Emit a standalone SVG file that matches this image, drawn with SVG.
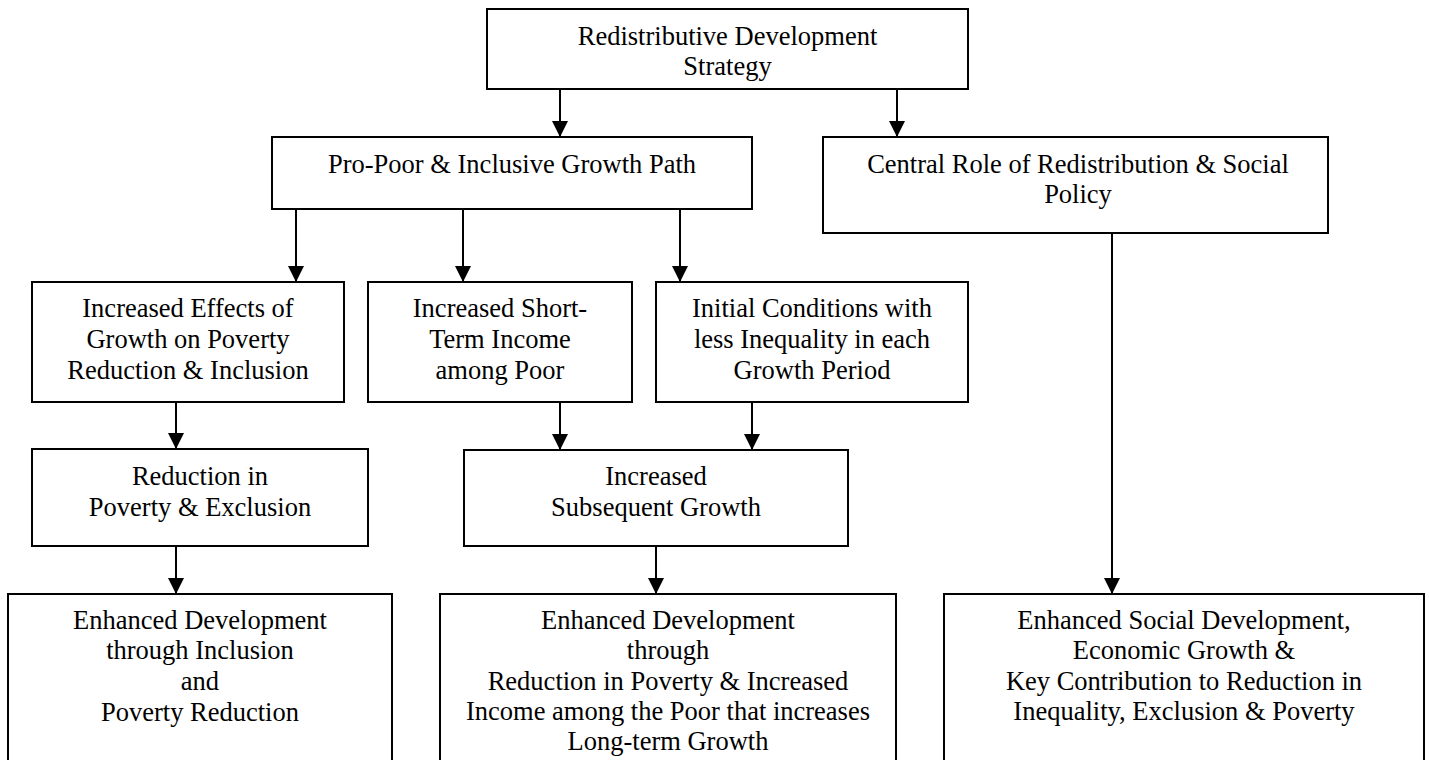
<svg xmlns="http://www.w3.org/2000/svg" width="1429" height="760" viewBox="0 0 1429 760">
<style>
.box{fill:#fff;stroke:#000;stroke-width:2}
.t{font-family:"Liberation Serif","Times New Roman",serif;font-size:26.5px;fill:#000;text-anchor:middle}
.c{stroke:#000;stroke-width:2;fill:none;marker-end:url(#ah)}
</style>
<defs>
<marker id="ah" markerUnits="userSpaceOnUse" markerWidth="16" markerHeight="16" viewBox="0 0 16 16" refX="16" refY="8" orient="auto">
<path d="M0,0 L16,8 L0,16 Z" fill="#000"/>
</marker>
</defs>
<rect width="1429" height="760" fill="#fff"/>
<g id="connectors">
<line class="c" x1="560" y1="89" x2="560" y2="137"/>
<line class="c" x1="897" y1="89" x2="897" y2="137"/>
<line class="c" x1="296" y1="209" x2="296" y2="282"/>
<line class="c" x1="463" y1="209" x2="463" y2="282"/>
<line class="c" x1="680" y1="209" x2="680" y2="282"/>
<line class="c" x1="176" y1="402" x2="176" y2="449"/>
<line class="c" x1="560" y1="402" x2="560" y2="450"/>
<line class="c" x1="752" y1="402" x2="752" y2="450"/>
<line class="c" x1="176" y1="546" x2="176" y2="594"/>
<line class="c" x1="656" y1="546" x2="656" y2="594"/>
<line class="c" x1="1112" y1="233" x2="1112" y2="594"/>
</g>
<g id="n-top">
<rect class="box" x="487" y="9" width="481" height="80"/>
<text class="t"><tspan x="727.5" y="45">Redistributive Development</tspan><tspan x="727.5" y="75">Strategy</tspan></text>
</g>
<g id="n-propoor">
<rect class="box" x="272" y="137" width="480" height="72"/>
<text class="t"><tspan x="512" y="173">Pro-Poor &amp; Inclusive Growth Path</tspan></text>
</g>
<g id="n-central">
<rect class="box" x="823" y="137" width="505" height="96"/>
<text class="t"><tspan x="1078" y="173">Central Role of Redistribution &amp; Social</tspan><tspan x="1078" y="203">Policy</tspan></text>
</g>
<g id="n-effects">
<rect class="box" x="32" y="282" width="312" height="120"/>
<text class="t"><tspan x="188" y="317">Increased Effects of</tspan><tspan x="188" y="348">Growth on Poverty</tspan><tspan x="188" y="379">Reduction &amp; Inclusion</tspan></text>
</g>
<g id="n-shortterm">
<rect class="box" x="368" y="282" width="264" height="120"/>
<text class="t"><tspan x="500" y="317">Increased Short-</tspan><tspan x="500" y="348">Term Income</tspan><tspan x="500" y="379">among Poor</tspan></text>
</g>
<g id="n-initial">
<rect class="box" x="656" y="282" width="312" height="120"/>
<text class="t"><tspan x="812" y="317">Initial Conditions with</tspan><tspan x="812" y="348">less Inequality in each</tspan><tspan x="812" y="379">Growth Period</tspan></text>
</g>
<g id="n-reduction">
<rect class="box" x="32" y="449" width="336" height="97"/>
<text class="t"><tspan x="200" y="485">Reduction in</tspan><tspan x="200" y="516">Poverty &amp; Exclusion</tspan></text>
</g>
<g id="n-subsequent">
<rect class="box" x="464" y="450" width="384" height="96"/>
<text class="t"><tspan x="656" y="485">Increased</tspan><tspan x="656" y="516">Subsequent Growth</tspan></text>
</g>
<g id="n-enh-inclusion">
<rect class="box" x="8" y="594" width="384" height="180"/>
<text class="t"><tspan x="200" y="629">Enhanced Development</tspan><tspan x="200" y="659">through Inclusion</tspan><tspan x="200" y="690">and</tspan><tspan x="200" y="721">Poverty Reduction</tspan></text>
</g>
<g id="n-enh-reduction">
<rect class="box" x="440" y="594" width="456" height="180"/>
<text class="t"><tspan x="668" y="629">Enhanced Development</tspan><tspan x="668" y="659">through</tspan><tspan x="668" y="690">Reduction in Poverty &amp; Increased</tspan><tspan x="668" y="720">Income among the Poor that increases</tspan><tspan x="668" y="750">Long-term Growth</tspan></text>
</g>
<g id="n-enh-social">
<rect class="box" x="944" y="594" width="480" height="180"/>
<text class="t"><tspan x="1184" y="629">Enhanced Social Development,</tspan><tspan x="1184" y="659">Economic Growth &amp;</tspan><tspan x="1184" y="690">Key Contribution to Reduction in</tspan><tspan x="1184" y="720">Inequality, Exclusion &amp; Poverty</tspan></text>
</g>
</svg>
